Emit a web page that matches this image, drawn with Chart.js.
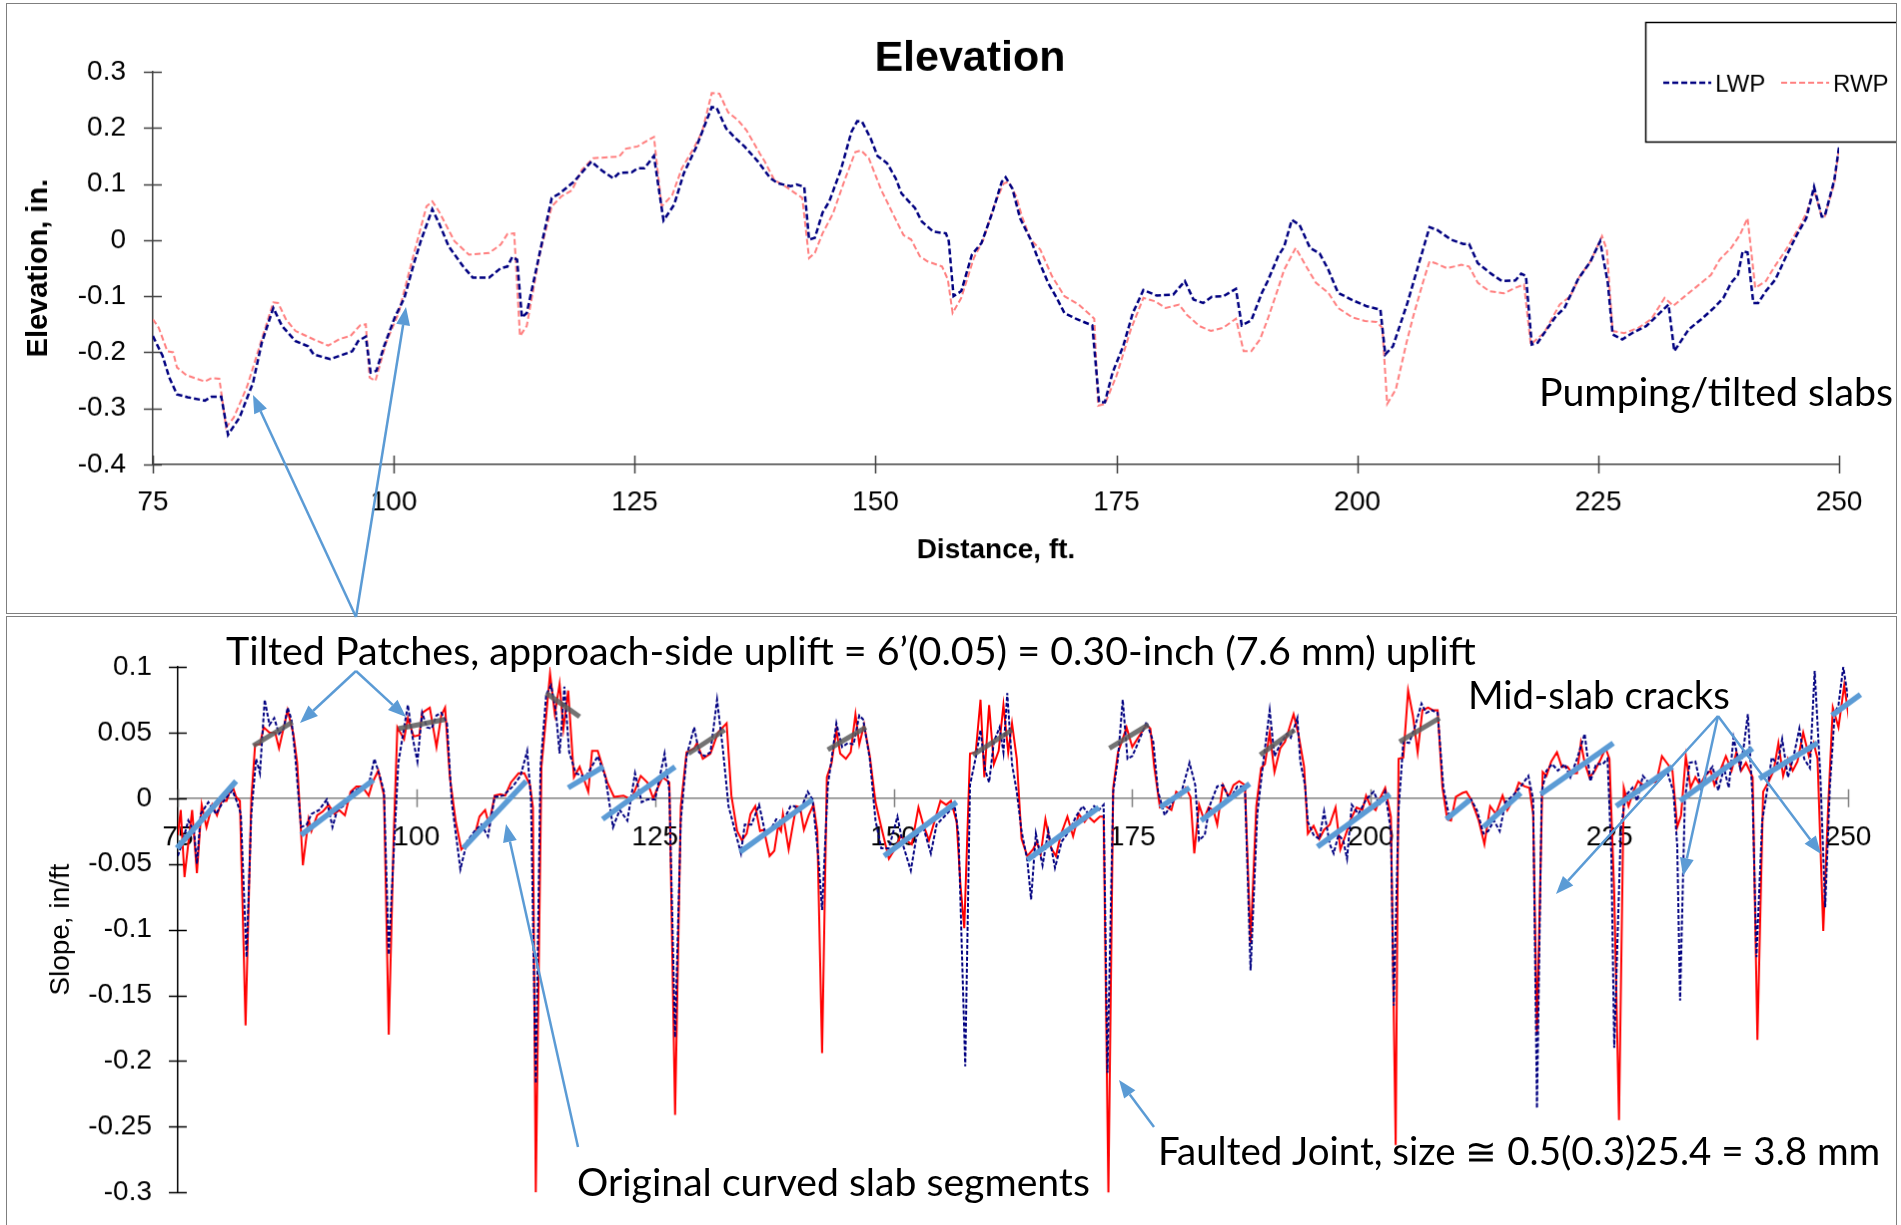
<!DOCTYPE html>
<html>
<head>
<meta charset="utf-8">
<script src="https://cdn.jsdelivr.net/npm/chart.js@4.4.0/dist/chart.umd.min.js"></script>
<style>
  html, body { margin: 0; padding: 0; background: #fff; overflow: hidden; }
  body { width: 1901px; height: 1225px; position: relative; }
  canvas { position: absolute; background: #fff; }
  #elevPanel { left: 6px; top: 3px; border: 1px solid #7f7f7f; }
  #slopePanel { left: 6px; top: 616px; border: 1px solid #7f7f7f; }
  #notes { left: 0; top: 0; background: transparent; pointer-events: none; }
</style>
</head>
<body>
<canvas id="elevPanel" width="1891" height="611"></canvas>
<canvas id="slopePanel" width="1891" height="620"></canvas>
<canvas id="notes" width="1901" height="1225"></canvas>
<script>
// distance (ft), elevation (in.)
const elevLwp = [[75.0,-0.171],[76.0,-0.206],[76.7,-0.245],[77.5,-0.275],[78.6,-0.280],[80.4,-0.286],[81.1,-0.279],[82.1,-0.279],[82.8,-0.347],[84.0,-0.316],[85.4,-0.254],[86.3,-0.183],[87.5,-0.121],[88.4,-0.153],[89.8,-0.180],[91.1,-0.189],[91.7,-0.204],[93.4,-0.212],[94.6,-0.205],[95.7,-0.198],[96.3,-0.180],[97.1,-0.172],[97.6,-0.236],[98.2,-0.233],[99.0,-0.189],[100.1,-0.138],[101.1,-0.103],[102.1,-0.041],[102.8,-0.002],[104.0,0.055],[104.7,0.030],[105.7,-0.011],[107.2,-0.047],[108.2,-0.067],[109.9,-0.067],[111.1,-0.050],[111.8,-0.047],[112.3,-0.030],[112.8,-0.035],[113.3,-0.138],[113.8,-0.130],[115.3,-0.011],[116.4,0.075],[117.2,0.083],[118.7,0.104],[120.5,0.140],[121.6,0.124],[122.8,0.110],[123.4,0.120],[124.7,0.121],[125.3,0.128],[126.0,0.128],[127.0,0.150],[128.0,0.035],[129.1,0.063],[130.1,0.119],[131.4,0.166],[133.0,0.237],[133.5,0.236],[134.5,0.199],[135.5,0.181],[136.4,0.167],[137.8,0.140],[139.1,0.110],[139.9,0.101],[141.2,0.096],[141.8,0.099],[142.6,0.095],[143.1,0.001],[143.7,0.004],[144.5,0.049],[145.2,0.069],[146.4,0.125],[147.5,0.193],[148.1,0.212],[148.6,0.211],[149.5,0.181],[150.2,0.150],[151.2,0.137],[152.1,0.110],[152.7,0.083],[154.1,0.057],[154.8,0.033],[156.0,0.015],[157.3,0.012],[157.6,-0.002],[158.1,-0.100],[158.9,-0.091],[160.0,-0.026],[161.0,-0.005],[162.1,0.048],[163.1,0.104],[163.5,0.112],[164.2,0.092],[165.0,0.039],[166.1,0.001],[166.9,-0.035],[167.9,-0.076],[168.8,-0.103],[169.6,-0.130],[170.9,-0.141],[172.5,-0.152],[173.2,-0.289],[173.8,-0.289],[174.6,-0.236],[175.7,-0.189],[176.7,-0.130],[177.8,-0.089],[179.2,-0.099],[180.9,-0.097],[182.1,-0.073],[183.0,-0.106],[184.0,-0.112],[184.9,-0.101],[186.1,-0.100],[187.4,-0.087],[188.0,-0.152],[189.0,-0.143],[190.1,-0.094],[190.7,-0.073],[191.8,-0.028],[192.4,-0.012],[193.2,0.036],[194.0,0.027],[195.1,-0.014],[196.1,-0.024],[197.0,-0.053],[198.0,-0.094],[199.5,-0.107],[201.0,-0.118],[202.4,-0.124],[202.9,-0.204],[203.7,-0.189],[205.2,-0.112],[206.4,-0.041],[207.5,0.023],[208.3,0.018],[209.7,0.001],[211.0,-0.007],[211.6,-0.007],[212.5,-0.041],[213.9,-0.060],[215.0,-0.073],[216.4,-0.072],[217.0,-0.060],[217.5,-0.064],[218.1,-0.186],[218.7,-0.183],[220.6,-0.136],[221.5,-0.121],[222.9,-0.070],[224.2,-0.038],[225.2,-0.002],[226.0,-0.076],[226.5,-0.168],[227.5,-0.177],[228.6,-0.165],[230.0,-0.153],[230.9,-0.138],[232.3,-0.115],[232.9,-0.198],[234.4,-0.159],[235.7,-0.141],[237.0,-0.121],[238.0,-0.103],[238.8,-0.076],[239.5,-0.062],[240.0,-0.020],[240.5,-0.022],[241.1,-0.112],[241.6,-0.112],[242.4,-0.091],[243.4,-0.070],[244.5,-0.029],[245.7,0.012],[246.6,0.039],[247.4,0.095],[248.2,0.042],[248.5,0.042],[249.5,0.107],[250.0,0.166]];

const elevRwp = [[75.0,-0.141],[75.6,-0.156],[76.5,-0.198],[77.1,-0.200],[77.5,-0.227],[78.5,-0.241],[80.4,-0.252],[81.1,-0.246],[81.9,-0.247],[82.6,-0.334],[83.4,-0.316],[84.8,-0.260],[86.3,-0.177],[87.5,-0.111],[88.0,-0.112],[88.8,-0.141],[89.8,-0.162],[91.7,-0.177],[93.2,-0.188],[94.4,-0.176],[95.5,-0.171],[96.5,-0.152],[97.1,-0.150],[97.5,-0.245],[98.1,-0.251],[99.2,-0.183],[100.5,-0.130],[102.1,-0.023],[103.4,0.060],[104.0,0.069],[104.7,0.051],[106.3,-0.002],[107.8,-0.026],[109.9,-0.023],[111.1,-0.008],[111.8,0.011],[112.5,0.012],[113.1,-0.171],[113.8,-0.153],[115.1,-0.029],[116.4,0.060],[117.4,0.078],[118.5,0.089],[119.5,0.125],[120.7,0.146],[123.4,0.149],[124.1,0.163],[125.3,0.167],[126.4,0.178],[127.0,0.184],[127.8,0.060],[128.9,0.080],[129.9,0.128],[131.2,0.166],[132.0,0.193],[133.0,0.262],[133.8,0.261],[134.7,0.228],[135.7,0.214],[136.6,0.196],[138.0,0.154],[138.5,0.140],[139.5,0.107],[140.8,0.094],[142.4,0.075],[143.1,-0.032],[143.7,-0.023],[144.5,0.012],[145.6,0.048],[146.8,0.107],[147.9,0.157],[148.5,0.160],[149.3,0.146],[150.6,0.089],[151.6,0.054],[152.9,0.009],[153.7,0.001],[154.6,-0.029],[155.4,-0.038],[156.9,-0.047],[157.5,-0.070],[158.0,-0.130],[158.9,-0.103],[160.2,-0.032],[161.2,0.001],[162.4,0.066],[163.3,0.101],[163.8,0.104],[164.6,0.078],[165.2,0.042],[166.1,0.001],[167.1,-0.017],[168.3,-0.064],[169.6,-0.100],[171.1,-0.115],[172.7,-0.140],[173.1,-0.295],[173.8,-0.292],[175.0,-0.242],[176.5,-0.159],[177.8,-0.103],[179.0,-0.109],[180.1,-0.121],[181.5,-0.115],[182.3,-0.133],[183.6,-0.153],[184.8,-0.162],[186.1,-0.156],[187.4,-0.140],[188.2,-0.198],[189.0,-0.198],[189.9,-0.177],[190.7,-0.141],[191.8,-0.085],[192.4,-0.053],[193.6,-0.014],[194.5,-0.041],[195.7,-0.076],[197.0,-0.094],[198.0,-0.121],[199.5,-0.138],[200.8,-0.144],[202.0,-0.146],[202.6,-0.156],[203.1,-0.292],[204.0,-0.266],[205.1,-0.183],[205.8,-0.136],[206.8,-0.076],[207.5,-0.038],[208.1,-0.041],[209.3,-0.050],[210.8,-0.044],[211.6,-0.047],[212.5,-0.076],[213.7,-0.091],[215.2,-0.095],[216.4,-0.085],[217.3,-0.079],[218.0,-0.186],[219.4,-0.165],[221.0,-0.115],[222.1,-0.100],[223.1,-0.064],[224.2,-0.038],[225.4,0.007],[225.9,-0.017],[226.5,-0.162],[227.7,-0.166],[229.2,-0.156],[230.5,-0.141],[231.9,-0.103],[232.8,-0.117],[234.0,-0.100],[235.5,-0.079],[236.7,-0.062],[237.6,-0.035],[238.8,-0.014],[239.7,0.009],[240.5,0.039],[241.3,-0.085],[242.4,-0.073],[243.2,-0.050],[244.5,-0.017],[245.9,0.024],[246.6,0.048],[247.4,0.089],[248.2,0.042],[248.5,0.042],[249.5,0.101],[250.0,0.163]];

// distance (ft), slope (in/ft)
const slopeLwp = [[75.0,-0.044],[75.5,-0.033],[76.1,-0.017],[76.7,-0.025],[77.0,-0.050],[77.4,-0.012],[78.2,-0.003],[79.0,-0.012],[79.8,-0.002],[80.7,0.006],[81.1,-0.001],[81.6,-0.012],[82.2,-0.121],[82.7,-0.012],[83.2,0.030],[83.6,0.019],[84.1,0.075],[84.6,0.056],[85.1,0.061],[85.6,0.049],[86.1,0.053],[86.5,0.069],[86.9,0.060],[87.3,0.032],[87.9,-0.022],[88.5,-0.020],[89.0,-0.012],[89.8,-0.009],[90.6,-0.001],[91.2,-0.022],[91.7,-0.009],[92.5,-0.005],[93.3,0.005],[94.3,0.009],[95.0,0.010],[95.6,0.030],[96.2,0.016],[96.6,0.005],[97.1,-0.119],[97.5,-0.058],[98.1,0.027],[98.6,0.049],[99.1,0.071],[99.6,0.046],[100.1,0.028],[100.6,0.065],[101.1,0.054],[101.6,0.053],[102.1,0.063],[102.6,0.065],[103.2,0.057],[103.7,-0.003],[104.6,-0.054],[105.3,-0.033],[106.1,-0.025],[106.8,-0.020],[107.5,-0.029],[108.2,0.001],[109.1,0.002],[110.1,0.009],[110.9,0.017],[111.6,0.036],[112.0,-0.001],[112.5,-0.217],[113.0,0.024],[113.6,0.079],[114.1,0.086],[114.6,0.067],[115.0,0.034],[115.5,0.085],[116.0,0.035],[116.7,0.019],[117.7,0.016],[119.0,0.032],[119.8,0.016],[120.6,-0.022],[121.3,-0.009],[122.1,-0.017],[122.9,0.019],[123.6,-0.003],[124.2,-0.001],[125.0,-0.001],[126.0,0.034],[126.5,0.005],[127.1,-0.182],[127.7,-0.017],[128.3,0.032],[129.1,0.054],[129.6,0.035],[130.2,0.032],[130.8,0.035],[131.5,0.075],[132.1,0.038],[132.7,-0.006],[134.0,-0.042],[134.4,-0.020],[135.1,-0.020],[135.9,-0.005],[136.5,-0.025],[137.1,-0.024],[137.7,-0.016],[138.4,-0.018],[139.2,-0.006],[139.6,-0.006],[140.2,-0.010],[141.0,0.005],[141.5,-0.001],[142.1,-0.044],[142.5,-0.085],[143.1,0.010],[143.5,0.030],[144.0,0.057],[144.6,0.039],[145.2,0.042],[145.8,0.041],[146.4,0.063],[146.8,0.060],[147.5,0.030],[148.1,-0.017],[148.7,-0.038],[149.5,-0.038],[150.4,-0.014],[151.0,-0.036],[151.8,-0.055],[152.4,-0.029],[153.1,-0.022],[153.9,-0.042],[154.5,-0.020],[155.3,-0.014],[155.8,-0.010],[156.4,-0.006],[156.8,-0.028],[157.5,-0.204],[158.0,0.010],[158.6,0.031],[159.1,0.052],[159.6,0.021],[160.0,0.012],[160.5,0.043],[161.1,0.054],[161.5,0.035],[161.9,0.080],[162.4,0.026],[162.9,0.005],[163.4,-0.025],[164.0,-0.047],[164.4,-0.077],[164.9,-0.027],[165.6,-0.051],[166.2,-0.025],[166.9,-0.053],[167.6,-0.033],[168.4,-0.025],[169.1,-0.014],[169.8,-0.006],[170.4,-0.012],[171.0,-0.006],[171.5,-0.009],[172.0,-0.005],[172.4,-0.209],[173.0,0.005],[173.5,0.030],[174.0,0.075],[174.5,0.030],[175.0,0.032],[175.6,0.042],[176.5,0.058],[177.2,0.043],[177.7,0.005],[178.4,-0.013],[179.3,-0.002],[180.2,0.006],[181.0,0.027],[181.6,0.010],[182.0,-0.032],[182.6,-0.028],[183.1,-0.006],[183.9,0.009],[184.5,0.010],[185.2,-0.001],[186.0,0.009],[186.8,0.009],[187.4,-0.131],[188.1,-0.012],[188.7,0.026],[189.4,0.067],[189.9,0.032],[190.5,0.041],[191.2,0.049],[191.6,0.046],[192.3,0.061],[192.6,0.028],[193.1,0.010],[193.4,-0.018],[194.0,-0.028],[194.6,-0.031],[195.1,-0.010],[195.7,-0.035],[196.1,-0.042],[196.6,-0.028],[197.1,-0.032],[197.5,-0.046],[198.0,-0.005],[198.7,-0.012],[199.5,-0.001],[200.3,0.005],[200.9,-0.005],[201.5,0.005],[202.1,-0.025],[202.4,-0.158],[202.9,-0.009],[203.4,0.043],[204.0,0.042],[204.6,0.054],[205.3,0.072],[205.8,0.065],[206.4,0.067],[207.0,0.065],[207.6,0.008],[208.2,-0.014],[209.0,-0.009],[209.7,-0.006],[210.5,-0.001],[211.1,-0.009],[211.8,-0.027],[212.3,-0.025],[212.9,-0.017],[213.5,-0.025],[214.1,-0.003],[214.9,0.002],[215.7,0.009],[216.5,0.017],[217.0,-0.001],[217.4,-0.236],[217.9,0.005],[218.4,0.021],[219.0,0.026],[219.6,0.021],[220.3,0.026],[220.9,0.016],[221.6,0.030],[222.4,0.049],[223.0,0.013],[223.6,0.026],[224.3,0.026],[224.8,0.030],[225.2,-0.044],[225.5,-0.190],[226.2,-0.022],[226.7,0.002],[227.4,0.008],[227.9,-0.002],[228.5,0.017],[229.1,0.012],[229.7,0.013],[230.4,0.017],[231.1,0.019],[231.7,0.005],[232.1,-0.036],[232.4,-0.154],[232.9,-0.001],[233.4,0.027],[234.0,0.028],[234.6,0.008],[235.2,0.019],[235.8,0.024],[236.4,0.006],[237.0,0.023],[237.5,0.008],[238.0,0.046],[238.7,0.023],[239.1,0.041],[239.5,0.064],[240.0,-0.001],[240.4,-0.121],[241.0,-0.017],[241.5,0.005],[242.0,0.031],[242.6,0.026],[243.1,0.045],[243.7,0.016],[244.3,0.032],[244.9,0.053],[245.4,0.030],[246.0,0.023],[246.5,0.097],[247.1,0.016],[247.6,-0.083],[248.1,0.010],[248.6,0.065],[249.0,0.071],[249.5,0.100],[250.0,0.076]];

const slopeRwp = [[75.0,-0.028],[75.3,-0.009],[75.7,-0.060],[76.5,-0.009],[77.0,-0.057],[77.5,-0.005],[78.0,-0.022],[78.6,-0.005],[79.1,-0.013],[79.6,-0.002],[80.1,-0.002],[80.7,0.010],[81.1,0.001],[81.5,-0.002],[82.1,-0.173],[82.7,-0.001],[83.1,0.041],[83.6,0.041],[84.0,0.054],[84.6,0.050],[85.2,0.050],[85.6,0.038],[86.5,0.067],[87.1,0.049],[87.5,0.027],[88.1,-0.051],[88.7,-0.016],[89.0,-0.025],[89.6,-0.013],[90.2,-0.010],[90.8,-0.005],[91.4,-0.012],[91.9,-0.009],[92.5,-0.013],[93.1,0.005],[93.7,0.009],[94.3,0.009],[95.0,0.002],[95.4,0.012],[96.0,0.021],[96.6,0.002],[97.1,-0.180],[97.6,-0.033],[98.0,0.054],[98.7,0.045],[99.1,0.061],[99.7,0.047],[100.3,0.048],[100.6,0.065],[101.4,0.069],[102.1,0.039],[102.6,0.063],[103.0,0.069],[103.5,0.016],[104.1,-0.017],[104.7,-0.039],[105.5,-0.033],[106.1,-0.028],[106.6,-0.014],[107.2,-0.009],[107.6,-0.020],[108.2,0.002],[108.8,0.003],[109.3,0.002],[109.9,0.012],[110.7,0.019],[111.3,0.019],[111.9,0.010],[112.2,-0.007],[112.5,-0.300],[113.1,0.024],[113.6,0.063],[114.0,0.095],[114.5,0.064],[115.0,0.087],[115.4,0.053],[115.9,0.082],[116.5,0.016],[117.1,0.024],[118.0,0.005],[118.4,0.036],[119.0,0.036],[120.0,0.012],[120.7,0.001],[121.7,0.002],[122.5,-0.001],[123.5,0.017],[124.2,0.012],[124.8,0.000],[125.8,0.016],[126.5,0.012],[127.1,-0.241],[127.7,-0.006],[128.3,0.035],[129.1,0.038],[129.4,0.042],[130.0,0.030],[130.8,0.034],[131.6,0.050],[132.5,0.057],[133.0,0.002],[133.6,-0.025],[134.1,-0.032],[134.6,-0.027],[135.0,-0.012],[135.5,-0.006],[136.0,-0.025],[136.4,-0.024],[137.0,-0.044],[137.5,-0.040],[137.9,-0.021],[138.2,-0.025],[138.4,-0.012],[139.0,-0.039],[139.4,-0.022],[139.8,-0.006],[140.2,-0.007],[140.6,-0.024],[141.1,-0.013],[141.6,-0.005],[142.0,-0.025],[142.5,-0.194],[143.0,0.016],[143.5,0.027],[144.0,0.052],[144.4,0.034],[145.0,0.030],[145.5,0.035],[146.0,0.064],[146.4,0.041],[146.9,0.056],[147.5,0.032],[148.1,-0.003],[148.7,-0.022],[149.5,-0.046],[150.2,-0.038],[150.7,-0.029],[151.3,-0.032],[151.9,-0.035],[152.6,-0.007],[153.1,-0.020],[153.7,-0.032],[154.3,-0.017],[154.9,-0.002],[155.5,-0.005],[156.0,-0.002],[156.6,-0.018],[157.0,-0.066],[157.4,-0.099],[158.0,0.034],[158.6,0.035],[159.1,0.075],[159.5,0.016],[160.0,0.071],[160.5,0.026],[161.0,0.036],[161.5,0.071],[162.0,0.035],[162.4,0.057],[162.9,0.030],[163.4,-0.031],[164.0,-0.044],[164.6,-0.039],[165.0,-0.033],[165.4,-0.043],[165.9,-0.016],[166.5,-0.038],[167.0,-0.044],[167.5,-0.028],[168.2,-0.014],[168.8,-0.029],[169.4,-0.012],[170.0,-0.018],[170.4,-0.014],[171.0,-0.018],[171.6,-0.014],[172.0,-0.014],[172.5,-0.301],[173.0,0.008],[173.5,0.035],[173.9,0.043],[174.4,0.054],[175.0,0.039],[175.6,0.046],[176.5,0.056],[176.9,0.053],[177.3,0.024],[177.9,-0.007],[178.5,-0.006],[179.1,-0.009],[179.6,0.005],[180.1,0.002],[180.6,0.008],[181.1,0.001],[181.5,-0.042],[182.0,-0.005],[182.5,-0.016],[183.0,-0.007],[183.5,-0.009],[183.9,-0.020],[184.5,0.010],[185.1,0.001],[185.6,0.010],[186.2,0.013],[186.8,0.010],[187.4,-0.110],[188.0,-0.006],[188.5,0.023],[188.9,0.026],[189.4,0.050],[189.9,0.020],[190.5,0.038],[191.0,0.043],[191.4,0.052],[191.9,0.064],[192.4,0.049],[193.0,0.024],[193.4,-0.027],[194.0,-0.021],[194.6,-0.031],[195.1,-0.024],[195.7,-0.020],[196.3,-0.007],[196.8,-0.039],[197.3,-0.029],[197.9,-0.016],[198.5,-0.007],[199.1,-0.009],[199.5,0.002],[199.9,-0.005],[200.5,-0.009],[200.9,-0.001],[201.5,0.008],[202.1,-0.014],[202.6,-0.264],[202.9,0.030],[203.4,0.031],[203.9,0.082],[204.4,0.063],[204.9,0.035],[205.4,0.067],[206.0,0.069],[206.5,0.067],[207.0,0.067],[207.5,0.008],[208.0,-0.016],[208.4,-0.017],[208.9,0.001],[209.6,0.004],[210.0,0.005],[210.5,-0.001],[211.3,-0.017],[211.9,-0.035],[212.5,-0.006],[213.1,-0.012],[213.8,0.002],[214.3,-0.009],[214.9,-0.001],[215.5,0.012],[216.1,0.009],[216.6,0.008],[217.0,-0.012],[217.4,-0.179],[218.0,0.020],[218.4,0.017],[218.9,0.028],[219.5,0.035],[220.0,0.024],[220.6,0.024],[221.1,0.019],[221.6,0.019],[222.0,0.042],[222.4,0.027],[222.9,0.016],[223.4,0.020],[224.1,0.030],[224.6,0.038],[225.0,0.030],[225.5,-0.072],[226.0,-0.245],[226.5,0.008],[227.0,-0.006],[227.5,0.005],[228.0,0.013],[228.7,0.009],[229.3,0.013],[229.9,0.012],[230.5,0.032],[231.1,0.026],[231.6,0.021],[232.1,-0.022],[232.5,-0.013],[233.0,0.032],[233.5,0.008],[234.0,0.016],[234.5,0.010],[235.0,0.017],[235.6,0.021],[236.0,0.010],[236.6,0.021],[237.2,0.032],[237.8,0.021],[238.3,0.035],[238.8,0.021],[239.3,0.027],[240.0,0.016],[240.5,-0.184],[241.1,0.005],[241.7,0.013],[242.2,0.021],[242.7,0.042],[243.2,0.017],[243.7,0.030],[244.2,0.021],[244.7,0.028],[245.3,0.050],[245.9,0.032],[246.4,0.042],[246.8,0.030],[247.4,-0.101],[247.9,-0.009],[248.4,0.069],[249.0,0.054],[249.6,0.086],[250.1,0.060]];

// hand-fitted slab trends on the slope plot: [ft1, slope1, ft2, slope2]
const patchFits = [[82.9,0.040,87.0,0.058],[98.1,0.053,103.0,0.060],[113.6,0.080,117.1,0.062],[128.5,0.034,132.3,0.052],[143.1,0.037,147.1,0.054],[158.3,0.033,162.4,0.052],[172.6,0.038,176.7,0.056],[188.4,0.033,192.0,0.052],[203.0,0.043,207.2,0.061]];
const slabFits = [[74.9,-0.038,81.1,0.013],[87.9,-0.028,95.5,0.014],[104.9,-0.038,111.5,0.013],[115.9,0.008,119.6,0.024],[119.5,-0.016,127.1,0.024],[133.9,-0.041,141.5,-0.001],[149.0,-0.044,156.6,-0.003],[164.0,-0.047,171.5,-0.007],[177.9,-0.007,181.0,0.008],[182.2,-0.017,187.3,0.011],[194.4,-0.037,202.0,0.003],[207.9,-0.016,210.4,-0.001],[211.8,-0.022,215.7,0.004],[217.8,0.003,225.4,0.042],[225.7,-0.006,231.6,0.024],[232.4,-0.002,240.0,0.038],[240.7,0.015,246.8,0.042],[248.3,0.063,251.3,0.079]];

const distTicks = { min: 75, max: 250, step: 25 };
const elevTicks = { min: -0.4, max: 0.3, step: 0.1 };
const slopeTicks = { min: -0.3, max: 0.1, step: 0.05 };

const ARIAL = '"Liberation Sans", Arial, sans-serif';
const NOTE_FONT = 'Lato, "Open Sans", sans-serif';
const fmt = v => String(Math.round(v * 100) / 100);

function toPoints(pairs) {
    return pairs.map(([x, y]) => ({ x, y }));
}

function toSegments(list) {
    const pts = [];
    list.forEach(([x1, y1, x2, y2]) => {
        pts.push({ x: x1, y: y1 }, { x: x2, y: y2 }, { x: x2, y: null });
    });
    return pts;
}

// tick marks that cross the axis line, like the spreadsheet original
const crossTicks = {
    id: 'crossTicks',
    beforeDatasetsDraw(chart, args, opts) {
        const { ctx, chartArea, scales: { x, y } } = chart;
        const len = 9;
        const axisY = opts.xAt == null ? chartArea.bottom : y.getPixelForValue(opts.xAt);
        ctx.save();
        ctx.lineWidth = 1.5;
        ctx.strokeStyle = opts.xColor;
        ctx.beginPath();
        x.ticks.forEach(t => {
            const px = Math.round(x.getPixelForValue(t.value)) + 0.5;
            ctx.moveTo(px, axisY - len);
            ctx.lineTo(px, axisY + len);
        });
        ctx.stroke();
        ctx.strokeStyle = opts.yColor;
        ctx.beginPath();
        y.ticks.forEach(t => {
            const py = Math.round(y.getPixelForValue(t.value)) + 0.5;
            ctx.moveTo(chartArea.left - len, py);
            ctx.lineTo(chartArea.left + len, py);
        });
        ctx.stroke();
        ctx.restore();
    }
};

// chart title and the boxed legend of the elevation chart
const elevDecor = {
    id: 'elevDecor',
    afterDraw(chart) {
        const ctx = chart.ctx;
        ctx.save();
        ctx.fillStyle = '#000';
        ctx.font = 'bold 43px ' + ARIAL;
        ctx.textAlign = 'center';
        ctx.textBaseline = 'middle';
        ctx.fillText('Elevation', 964, 55);

        ctx.strokeStyle = '#000';
        ctx.lineWidth = 1.5;
        ctx.strokeRect(1640.5, 18.5, 280, 120);
        ctx.textAlign = 'left';
        ctx.textBaseline = 'alphabetic';
        ctx.font = '24px ' + ARIAL;
        chart.data.datasets.forEach((ds, i) => {
            const x0 = 1658 + i * 118;
            ctx.setLineDash(ds.borderDash || []);
            ctx.strokeStyle = ds.borderColor;
            ctx.lineWidth = ds.borderWidth;
            ctx.beginPath();
            ctx.moveTo(x0, 79);
            ctx.lineTo(x0 + 48, 79);
            ctx.stroke();
            ctx.setLineDash([]);
            ctx.fillText(ds.label, x0 + 52, 88);
        });
        ctx.restore();
    }
};

new Chart(document.getElementById('elevPanel'), {
    type: 'line',
    data: {
        datasets: [
            { label: 'LWP', data: toPoints(elevLwp), borderColor: '#000080', borderWidth: 2.5, borderDash: [6, 3] },
            { label: 'RWP', data: toPoints(elevRwp), borderColor: '#FF7F7F', borderWidth: 2, borderDash: [6, 3] },
        ],
    },
    options: {
        responsive: false,
        animation: false,
        devicePixelRatio: 1,
        events: [],
        elements: { point: { radius: 0 }, line: { tension: 0 } },
        layout: { padding: { left: 0, top: 68, right: 57, bottom: 45 } },
        plugins: {
            legend: { display: false },
            tooltip: { enabled: false },
            crossTicks: { xColor: '#404040', yColor: '#404040' },
        },
        scales: {
            x: {
                type: 'linear',
                position: 'bottom',
                min: distTicks.min,
                max: distTicks.max,
                afterFit: s => { s.height = 104; },
                grid: { display: false, drawTicks: false },
                border: { color: '#404040', width: 1.5 },
                ticks: {
                    stepSize: distTicks.step, autoSkip: false, maxRotation: 0, padding: 21,
                    color: '#000', font: { family: ARIAL, size: 28 }, callback: v => String(v),
                },
                title: {
                    display: true, text: 'Distance, ft.', color: '#000',
                    font: { family: ARIAL, size: 28, weight: 'bold' }, padding: { top: 0, bottom: 1 },
                },
            },
            y: {
                type: 'linear',
                min: elevTicks.min,
                max: elevTicks.max,
                afterFit: s => { s.width = 146; },
                grid: { display: false, drawTicks: false },
                border: { color: '#404040', width: 1.5 },
                ticks: {
                    stepSize: elevTicks.step, padding: 27, color: '#000',
                    font: { family: ARIAL, size: 28 }, callback: fmt,
                },
                title: {
                    display: true, text: 'Elevation, in.', color: '#000',
                    font: { family: ARIAL, size: 29, weight: 'bold' }, padding: { top: 15, bottom: 0 },
                },
            },
        },
    },
    plugins: [crossTicks, elevDecor],
});

new Chart(document.getElementById('slopePanel'), {
    type: 'line',
    data: {
        datasets: [
            { label: 'LWP', data: toPoints(slopeLwp), borderColor: '#000080', borderWidth: 2, borderDash: [4, 2] },
            { label: 'RWP', data: toPoints(slopeRwp), borderColor: '#FF0000', borderWidth: 2 },
            { label: 'patch fit', data: toSegments(patchFits), borderColor: 'rgba(90,90,90,0.85)', borderWidth: 5,
              borderCapStyle: 'butt', spanGaps: false, clip: false, order: -1 },
            { label: 'slab fit', data: toSegments(slabFits), borderColor: '#5B9BD5', borderWidth: 5.5,
              borderCapStyle: 'butt', spanGaps: false, clip: false, order: -1 },
        ],
    },
    options: {
        responsive: false,
        animation: false,
        devicePixelRatio: 1,
        events: [],
        elements: { point: { radius: 0 }, line: { tension: 0 } },
        layout: { padding: { left: 0, top: 50, right: 48, bottom: 40 } },
        plugins: {
            legend: { display: false },
            tooltip: { enabled: false },
            crossTicks: { xAt: 0, xColor: '#808080', yColor: '#000' },
        },
        scales: {
            x: {
                type: 'linear',
                position: { y: 0 },
                min: distTicks.min,
                max: distTicks.max,
                afterFit: s => { s.height = 0; },
                grid: { display: false, drawTicks: false },
                border: { color: '#808080', width: 1.5 },
                ticks: {
                    stepSize: distTicks.step, autoSkip: false, maxRotation: 0, padding: 23,
                    color: '#000', font: { family: ARIAL, size: 28 }, callback: v => String(v),
                },
            },
            y: {
                type: 'linear',
                min: slopeTicks.min,
                max: slopeTicks.max,
                afterFit: s => { s.width = 171; },
                grid: { display: false, drawTicks: false },
                border: { color: '#000', width: 1.5 },
                ticks: {
                    stepSize: slopeTicks.step, padding: 26, color: '#000',
                    font: { family: ARIAL, size: 28 }, callback: fmt,
                },
                title: {
                    display: true, text: 'Slope, in/ft', color: '#000',
                    font: { family: ARIAL, size: 28 }, padding: { top: 37, bottom: 0 },
                },
            },
        },
    },
    plugins: [crossTicks],
});

// callouts laid over both panels (page pixels)
const noteTexts = [
    ['Pumping/tilted slabs', 1539, 406, 354],
    ['Tilted Patches, approach-side uplift = 6\u2019(0.05) = 0.30-inch (7.6 mm) uplift', 226, 665, 1250],
    ['Mid-slab cracks', 1468, 709, 262],
    ['Original curved slab segments', 577, 1196, 513],
    ['Faulted Joint, size \u2245 0.5(0.3)25.4 = 3.8 mm', 1158, 1165, 723],
];
const noteArrows = [
    [356, 617, 253, 395],
    [356, 617, 406, 307],
    [356, 671, 300, 723],
    [356, 671, 406, 717],
    [578, 1147, 506, 824],
    [1154, 1127, 1119, 1080],
    [1718, 716, 1556, 894],
    [1718, 716, 1683, 876],
    [1718, 716, 1821, 854],
];

const notes = document.getElementById('notes').getContext('2d');

function drawArrow(ctx, x1, y1, x2, y2) {
    const ang = Math.atan2(y2 - y1, x2 - x1);
    const head = 18, half = 7;
    const bx = x2 - head * Math.cos(ang);
    const by = y2 - head * Math.sin(ang);
    ctx.beginPath();
    ctx.moveTo(x1, y1);
    ctx.lineTo(bx, by);
    ctx.stroke();
    ctx.beginPath();
    ctx.moveTo(x2, y2);
    ctx.lineTo(bx + half * Math.sin(ang), by - half * Math.cos(ang));
    ctx.lineTo(bx - half * Math.sin(ang), by + half * Math.cos(ang));
    ctx.closePath();
    ctx.fill();
}

notes.strokeStyle = '#5B9BD5';
notes.fillStyle = '#5B9BD5';
notes.lineWidth = 2.5;
noteArrows.forEach(a => drawArrow(notes, ...a));

notes.fillStyle = '#000';
notes.textBaseline = 'alphabetic';
noteTexts.forEach(([text, x, y, width]) => {
    notes.font = '40px ' + NOTE_FONT;
    const size = 40 * width / notes.measureText(text).width;
    notes.font = size.toFixed(2) + 'px ' + NOTE_FONT;
    notes.fillText(text, x, y);
});
</script>
</body>
</html>
